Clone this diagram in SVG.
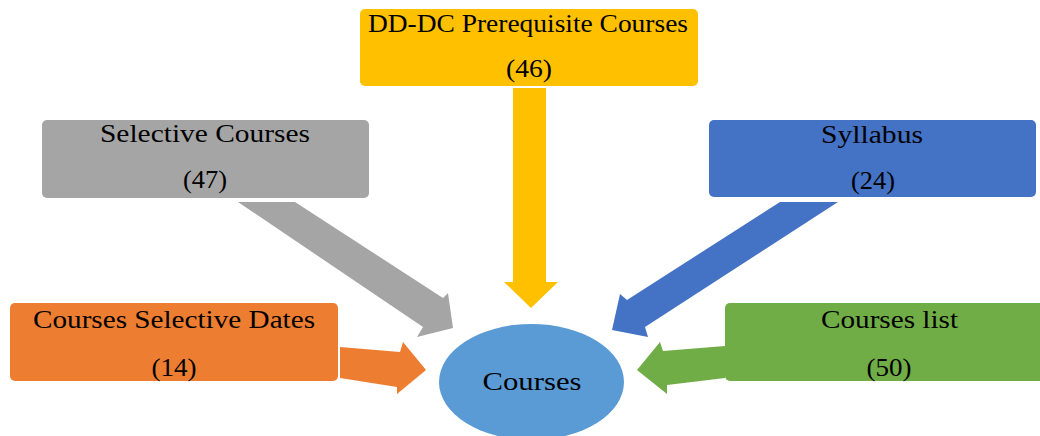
<svg xmlns="http://www.w3.org/2000/svg" width="1040" height="436" viewBox="0 0 1040 436">
<style>
text{font-family:"Liberation Serif","Times New Roman",serif;font-size:25px;fill:#000;text-anchor:middle}
</style>
<rect x="0" y="0" width="1040" height="436" fill="#fff"/>
<g id="connectors">
<polygon fill="#FFC000" points="513,88 546,88 546,282 558,282 531,308 504,282 513,282"/>
<polygon fill="#A5A5A5" points="238,202 295,202 443,298 448,293 453,328 417,337 423,327"/>
<polygon fill="#4472C4" points="780,202 838,202 645,327 648,337 612,330 620,294 627,300"/>
<polygon fill="#ED7D31" points="340,347 400,352 403,342 426,370 397,394 397,387 340,378"/>
<polygon fill="#70AD47" points="725,346 663,351 660,342 637,370 667,394 667,385 725,378"/>
</g>
<g id="node-prereq">
<rect x="360" y="9" width="338" height="77" rx="5" fill="#FFC000"/>
<text x="528" y="32" textLength="320" lengthAdjust="spacingAndGlyphs">DD-DC Prerequisite Courses</text>
<text x="529" y="77" textLength="46" lengthAdjust="spacingAndGlyphs">(46)</text>
</g>
<g id="node-selective">
<rect x="42" y="120" width="327" height="78" rx="5" fill="#A5A5A5"/>
<text x="205" y="142" textLength="210" lengthAdjust="spacingAndGlyphs">Selective Courses</text>
<text x="205" y="188" textLength="44" lengthAdjust="spacingAndGlyphs">(47)</text>
</g>
<g id="node-syllabus">
<rect x="709" y="120" width="327" height="77" rx="5" fill="#4472C4"/>
<text x="872" y="143" textLength="102" lengthAdjust="spacingAndGlyphs">Syllabus</text>
<text x="873" y="189" textLength="44" lengthAdjust="spacingAndGlyphs">(24)</text>
</g>
<g id="node-dates">
<rect x="10" y="303" width="328" height="78" rx="5" fill="#ED7D31"/>
<text x="174" y="328" textLength="282" lengthAdjust="spacingAndGlyphs">Courses Selective Dates</text>
<text x="174" y="376" textLength="45" lengthAdjust="spacingAndGlyphs">(14)</text>
</g>
<g id="node-list">
<rect x="725" y="303" width="330" height="78" rx="5" fill="#70AD47"/>
<text x="889.5" y="328" textLength="137" lengthAdjust="spacingAndGlyphs">Courses list</text>
<text x="889" y="376" textLength="45" lengthAdjust="spacingAndGlyphs">(50)</text>
</g>
<g id="node-courses">
<ellipse cx="531.5" cy="382" rx="92.5" ry="58" fill="#5B9BD5"/>
<text x="532" y="390" textLength="99" lengthAdjust="spacingAndGlyphs">Courses</text>
</g>
</svg>
